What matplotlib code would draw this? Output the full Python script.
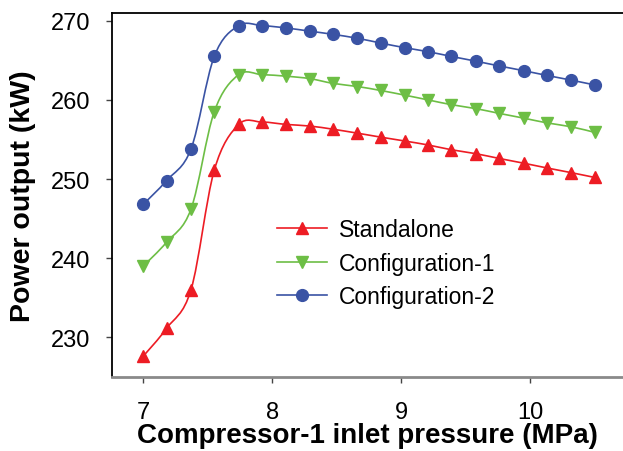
import matplotlib
matplotlib.use("Agg")
import matplotlib.pyplot as plt
from matplotlib.path import Path
from matplotlib.patches import PathPatch
from matplotlib.lines import Line2D

plt.rcParams['font.family'] = ['Liberation Sans', 'DejaVu Sans']

# Compressor-1 inlet pressure (MPa)
pressure = [7.0, 7.18, 7.37, 7.55, 7.74, 7.92, 8.11, 8.29, 8.47, 8.66,
            8.84, 9.03, 9.21, 9.39, 9.58, 9.76, 9.95, 10.13, 10.32, 10.5]

# Power output (kW)
standalone = [227.6, 231.1, 236.0, 251.1, 256.9, 257.2, 256.9, 256.7, 256.3, 255.8,
              255.3, 254.8, 254.3, 253.7, 253.2, 252.6, 252.0, 251.4, 250.8, 250.2]
config1 = [239.0, 242.0, 246.2, 258.5, 263.2, 263.2, 263.0, 262.7, 262.1, 261.7,
           261.2, 260.6, 260.0, 259.4, 258.9, 258.3, 257.7, 257.1, 256.6, 255.9]
config2 = [246.8, 249.8, 253.8, 265.5, 269.4, 269.4, 269.1, 268.7, 268.3, 267.8,
           267.2, 266.6, 266.1, 265.5, 264.9, 264.3, 263.7, 263.1, 262.5, 261.9]

labels = ['Standalone', 'Configuration-1', 'Configuration-2']
colors = ['#ED1C24', '#6DBE45', '#3A53A4']
markers = ['^', 'v', 'o']
series = [standalone, config1, config2]

x_ticks = [7, 8, 9, 10]
y_ticks = [230, 240, 250, 260, 270]


def smooth_path(xs, ys):
    """Catmull-Rom curve through the points, expressed as cubic Bezier segments."""
    pts = list(zip(xs, ys))
    verts = [pts[0]]
    codes = [Path.MOVETO]
    n = len(pts)
    for i in range(n - 1):
        p0 = pts[i - 1] if i > 0 else pts[i]
        p1 = pts[i]
        p2 = pts[i + 1]
        p3 = pts[i + 2] if i + 2 < n else pts[i + 1]
        c1 = (p1[0] + (p2[0] - p0[0]) / 6.0, p1[1] + (p2[1] - p0[1]) / 6.0)
        c2 = (p2[0] - (p3[0] - p1[0]) / 6.0, p2[1] - (p3[1] - p1[1]) / 6.0)
        verts += [c1, c2, p2]
        codes += [Path.CURVE4] * 3
    return Path(verts, codes)


fig = plt.figure(figsize=(6.23, 4.52), dpi=100)
ax = fig.add_axes([0.1793, 0.1644, 0.8207, 0.8047])

handles = []
for ys, c, m, lab in zip(series, colors, markers, labels):
    ax.add_patch(PathPatch(smooth_path(pressure, ys), facecolor='none',
                           edgecolor=c, lw=1.2, zorder=2))
    ax.plot(pressure, ys, linestyle='none', marker=m, markersize=8.5,
            color=c, markeredgecolor=c, zorder=3)
    handles.append(Line2D([], [], color=c, lw=1.2, marker=m, markersize=8.5, label=lab))

ax.set_xlim(6.755, 10.72)
ax.set_ylim(225.0, 271.0)
ax.set_xticks(x_ticks)
ax.set_yticks(y_ticks)

ax.spines['right'].set_visible(False)
ax.spines['left'].set_color('black')
ax.spines['left'].set_linewidth(1.3)
ax.spines['top'].set_color('black')
ax.spines['top'].set_linewidth(1.3)
ax.spines['bottom'].set_color('#8a8a8a')
ax.spines['bottom'].set_linewidth(2.0)

ax.tick_params(axis='both', direction='out', length=4.5, width=1.0,
               color='#444444', labelsize=17)
ax.tick_params(axis='x', pad=13.0)
ax.tick_params(axis='y', pad=10.8)

ax.set_xlabel('Compressor-1 inlet pressure (MPa)', fontsize=20,
              fontweight='bold', labelpad=-1)
ax.set_ylabel('Power output (kW)', fontsize=20.5, fontweight='bold', labelpad=11)

ax.legend(handles=handles, loc='center left', bbox_to_anchor=(0.323, 0.312),
          frameon=False, fontsize=16.5, handlelength=2.2, handletextpad=0.52,
          labelspacing=0.45, borderpad=0, borderaxespad=0)

fig.savefig('out.png', dpi=100)
